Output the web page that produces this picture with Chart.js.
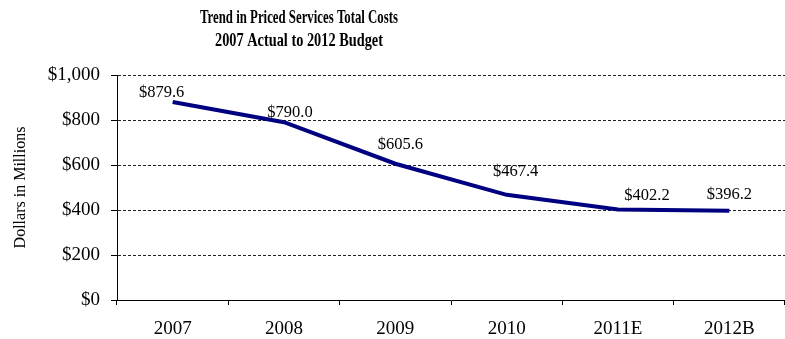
<!DOCTYPE html>
<html>
<head>
<meta charset="utf-8">
<script src="https://cdn.jsdelivr.net/npm/chart.js@4/dist/chart.umd.min.js"></script>
<style>
  html, body { margin: 0; padding: 0; background: #fff; }
  #wrap { width: 785px; height: 339px; }
</style>
</head>
<body>
<div id="wrap"><canvas id="c" width="785" height="339"></canvas></div>
<script>
// Priced services total costs, $ millions
const years = ['2007', '2008', '2009', '2010', '2011E', '2012B'];
const totalCosts = [879.6, 790.0, 605.6, 467.4, 402.2, 396.2];
const titleLines = ['Trend in Priced Services Total Costs', '2007 Actual to 2012 Budget'];
const yAxisTitle = 'Dollars in Millions';
const yMin = 0, yMax = 1000, yStep = 200;

// nudges for the value labels, [dx, dy] from each point
const labelNudge = [[-11, -9], [6, -10], [5, -19], [9, -23], [29, -14], [0, -16]];

const SERIF = '"Liberation Serif", "Times New Roman", Times, serif';

const fmtDollar = v => '$' + Number(v).toLocaleString('en-US');

// Two-line bold title, set in a condensed width
const condensedTitle = {
  id: 'condensedTitle',
  afterDraw(chart, args, opts) {
    const ctx = chart.ctx;
    ctx.save();
    ctx.fillStyle = '#000';
    ctx.font = 'bold 19px ' + SERIF;
    ctx.textAlign = 'center';
    ctx.textBaseline = 'middle';
    opts.lines.forEach((line, i) => {
      ctx.fillText(line, opts.x, opts.y + i * opts.lineHeight, opts.widths[i]);
    });
    ctx.restore();
  }
};

// Value labels above the line
const valueLabels = {
  id: 'valueLabels',
  afterDatasetsDraw(chart) {
    const ctx = chart.ctx;
    const meta = chart.getDatasetMeta(0);
    const ds = chart.data.datasets[0];
    ctx.save();
    ctx.fillStyle = '#000';
    ctx.font = '16.5px ' + SERIF;
    ctx.textAlign = 'center';
    ctx.textBaseline = 'middle';
    meta.data.forEach((pt, i) => {
      const [dx, dy] = labelNudge[i];
      ctx.fillText('$' + ds.data[i].toFixed(1), pt.x + dx, pt.y + dy);
    });
    ctx.restore();
  }
};

new Chart(document.getElementById('c'), {
  type: 'line',
  data: {
    labels: years,
    datasets: [{
      data: totalCosts,
      borderColor: '#000080',
      borderWidth: 4,
      tension: 0,
      pointRadius: 0,
      pointHoverRadius: 0,
      fill: false
    }]
  },
  options: {
    responsive: false,
    devicePixelRatio: 1,
    animation: false,
    layout: { padding: { top: 75, left: 0, right: 0, bottom: 0 } },
    plugins: {
      legend: { display: false },
      title: { display: false },
      tooltip: { enabled: false },
      condensedTitle: { lines: titleLines, x: 299, y: 18, lineHeight: 23, widths: [198, 168] }
    },
    scales: {
      x: {
        offset: true,
        grid: {
          offset: true,
          drawOnChartArea: false,
          drawTicks: true,
          tickLength: 5,
          tickColor: '#000'
        },
        border: { display: true, color: '#000', width: 1 },
        ticks: {
          color: '#000',
          padding: 13,
          maxRotation: 0,
          font: { family: SERIF, size: 19 }
        },
        afterFit(scale) { scale.height = 39; }
      },
      y: {
        min: yMin,
        max: yMax,
        grid: {
          color: '#222',
          lineWidth: 1,
          tickBorderDash: [],
          tickLength: 6,
          tickColor: '#000'
        },
        border: { display: true, color: '#000', width: 1, dash: [3, 2] },
        ticks: {
          stepSize: yStep,
          color: '#000',
          padding: 11,
          font: { family: SERIF, size: 19 },
          callback: v => fmtDollar(v)
        },
        title: {
          display: true,
          text: yAxisTitle,
          color: '#000',
          padding: { top: 11, bottom: 0 },
          font: { family: SERIF, size: 16 }
        },
        afterFit(scale) { scale.width = 117; }
      }
    }
  },
  plugins: [condensedTitle, valueLabels]
});
</script>
</body>
</html>
